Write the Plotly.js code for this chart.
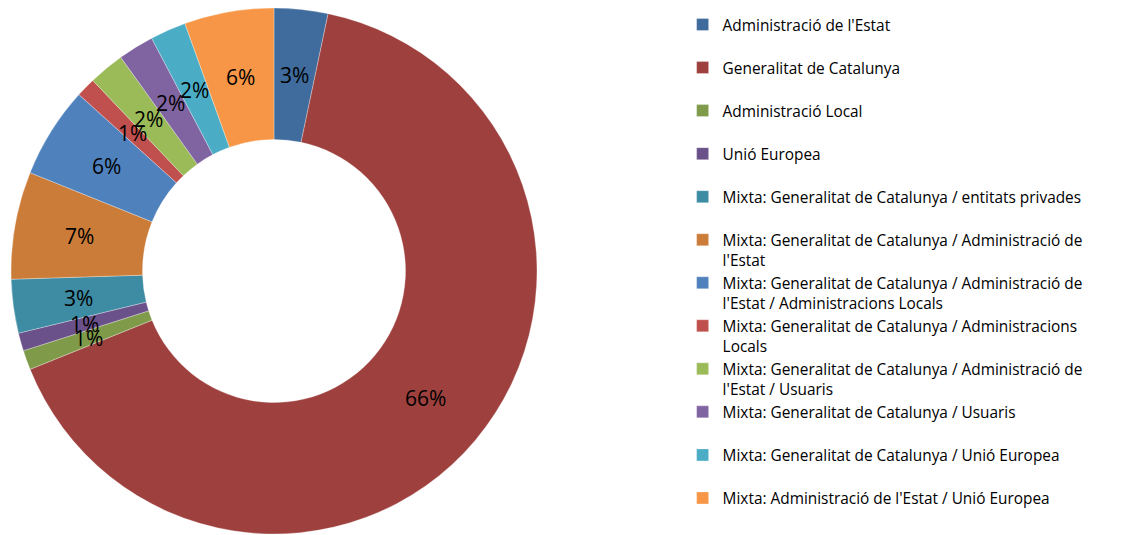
<!DOCTYPE html>
<html>
<head>
<meta charset="utf-8">
<script src="https://cdn.plot.ly/plotly-3.0.1.min.js"></script>
<style>html,body{margin:0;padding:0;background:#fff;}#chart{width:1127px;height:535px;}</style>
</head>
<body>
<div id="chart"></div>
<script>
// Data (percent shares)
var labels = [
  "Administració de l'Estat",
  "Generalitat de Catalunya",
  "Administració Local",
  "Unió Europea",
  "Mixta: Generalitat de Catalunya / entitats privades",
  "Mixta: Generalitat de Catalunya / Administració de l'Estat",
  "Mixta: Generalitat de Catalunya / Administració de l'Estat / Administracions Locals",
  "Mixta: Generalitat de Catalunya / Administracions Locals",
  "Mixta: Generalitat de Catalunya / Administració de l'Estat / Usuaris",
  "Mixta: Generalitat de Catalunya / Usuaris",
  "Mixta: Generalitat de Catalunya / Unió Europea",
  "Mixta: Administració de l'Estat / Unió Europea"
];
var values = [3.3, 65.6, 1.2, 1.1, 3.3, 6.6, 5.6, 1.2, 2.2, 2.2, 2.2, 5.5];
var colors = ["#3F6B9D", "#9E413E", "#7F9B4A", "#6A5189", "#3D8CA4", "#CC7C39",
              "#4F81BD", "#C0504D", "#9BBB59", "#8064A2", "#4BACC6", "#F79646"];

// Legend text wrapped as in the original (every entry two lines tall)
var maxLine = 52;
function legendText(s) {
  if (s.length <= maxLine) return s + "<br> ";
  var words = s.split(" ");
  var first = words[0], i = 1;
  while (i < words.length && (first + " " + words[i]).length <= maxLine) { first += " " + words[i]; i++; }
  return first + "<br>" + words.slice(i).join(" ");
}
var legendLabels = labels.map(legendText);

var W = 1127, H = 535;
var cxPx = 274, cyPx = 271, R = 263;
var dom = {x: [(cxPx - R) / W, (cxPx + R) / W], y: [(H - cyPx - R) / H, (H - cyPx + R) / H]};
var hole = 0.5;

// percentage labels placed at mid-ring of each slice (Excel style)
var total = values.reduce(function (a, b) { return a + b; }, 0);
var annotations = [];
var acc = 0;
var rMid = R * (1 + hole) / 2;
values.forEach(function (v) {
  var mid = (acc + v / 2) / total * 2 * Math.PI;
  acc += v;
  annotations.push({
    xref: 'paper', yref: 'paper',
    x: (cxPx + rMid * Math.sin(mid)) / W,
    y: (H - cyPx + rMid * Math.cos(mid)) / H,
    text: Math.round(v / total * 100) + '%',
    showarrow: false,
    xanchor: 'center', yanchor: 'middle',
    font: {family: 'Open Sans, Liberation Sans, sans-serif', size: 21, color: '#000'}
  });
});

var trace = {
  type: 'pie',
  labels: legendLabels,
  values: values,
  hole: hole,
  sort: false,
  direction: 'clockwise',
  rotation: 0,
  marker: {colors: colors, line: {color: '#ffffff', width: 0.3}},
  textinfo: 'none',
  hoverinfo: 'percent',
  domain: dom
};

var layout = {
  width: W, height: H,
  margin: {l: 0, r: 0, t: 0, b: 0},
  paper_bgcolor: '#ffffff',
  showlegend: true,
  legend: {
    x: 0.6057, y: 0.982, xanchor: 'left', yanchor: 'top',
    valign: 'top',
    font: {family: 'Open Sans, Liberation Sans, sans-serif', size: 15.4, color: '#000'},
    bgcolor: 'rgba(0,0,0,0)'
  },
  annotations: annotations
};

Plotly.newPlot('chart', [trace], layout, {displayModeBar: false, staticPlot: true});
</script>
</body>
</html>
